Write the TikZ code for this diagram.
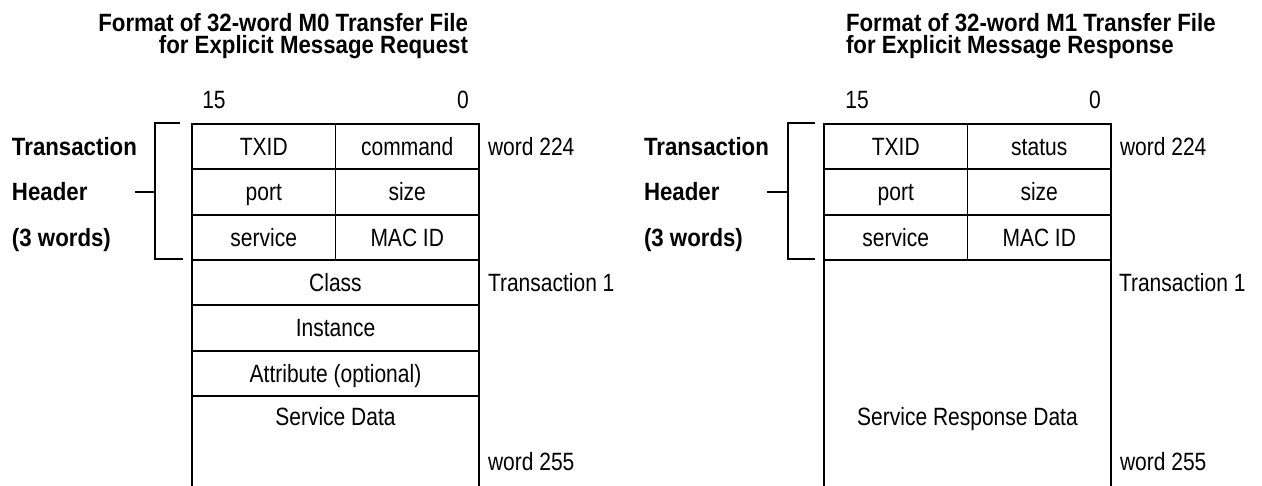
\documentclass[tikz,border=0pt]{standalone}
\usepackage{fontspec}
\setmainfont{Liberation Sans}[FakeStretch=0.84]
\newfontfamily\headfont{Liberation Sans}[FakeStretch=0.89]
\usetikzlibrary{positioning}

\begin{document}
\begin{tikzpicture}[x=1pt, y=-1pt,
	every node/.style={font=\fontsize{25}{25}\selectfont, inner sep=0pt, outer sep=0pt, text height=17.9pt, text depth=0pt},
	cell/.style={draw, line width=1.8pt, minimum height=45.33pt},
	half/.style={cell, minimum width=143.5pt},
	full/.style={cell, minimum width=287pt},
	hdr/.style={font=\headfont\bfseries\fontsize{25}{25}\selectfont, anchor=west},
	ttl/.style={font=\headfont\bfseries\fontsize{25}{22.5}\selectfont, text height=, text depth=},
	side/.style={anchor=west},
	rule/.style={line width=1.8pt}]
	% 画布
	\fill[white] (0,0) rectangle (1262,486);
	\useasboundingbox (0,0) rectangle (1262,486);
	
	% 左: M0 请求
	\node[ttl, align=right, anchor=north east] (reqT) at (468,13) {Format of 32-word M0 Transfer File\\for Explicit Message Request};
	\node (hiA) at (214,100) {15};
	\node (loA) at (463,100) {0};
	
	% 事务头
	\node[half] (txidA) at (263.75,146.67) {TXID};
	\node[half] (cmdA) at (407.25,146.67) {command};
	\node[half] (portA) at (263.75,192) {port};
	\node[half] (sizeA) at (407.25,192) {size};
	\node[half] (servA) at (263.75,237.33) {service};
	\node[half] (macA) at (407.25,237.33) {MAC ID};
	
	% 事务数据
	\node[full] (classA) at (335.5,282.67) {Class};
	\node[full] (instA) at (335.5,328) {Instance};
	\node[full] (attrA) at (335.5,373.33) {Attribute (optional)};
	\draw[rule] (attrA.south west) -- (192,486);
	\draw[rule] (attrA.south east) -- (479,486);
	\node (dataA) at (335.5,417) {Service Data};
	
	% 括号与说明
	\draw[rule] (180,123) -- (155,123) -- (155,259) -- (183,259);
	\draw[rule] (135,192) -- (155,192);
	\node[hdr] (trA) at (12,146.67) {Transaction};
	\node[hdr] (hdA) at (12,192) {Header};
	\node[hdr] (nwA) at (12,237.33) {(3 words)};
	\node[side] (w224A) at (488,146.67) {word 224};
	\node[side] (t1A) at (488,282.67) {Transaction 1};
	\node[side] (w255A) at (488,462) {word 255};
	
	% 右: M1 响应
	\begin{scope}[xshift=632pt]
		\node[ttl, align=left, anchor=north west] (rspT) at (214,13) {Format of 32-word M1 Transfer File\\for Explicit Message Response};
		\node (hiB) at (225,100) {15};
		\node (loB) at (463,100) {0};
		
		\node[half] (txidB) at (263.75,146.67) {TXID};
		\node[half] (statB) at (407.25,146.67) {status};
		\node[half] (portB) at (263.75,192) {port};
		\node[half] (sizeB) at (407.25,192) {size};
		\node[half] (servB) at (263.75,237.33) {service};
		\node[half] (macB) at (407.25,237.33) {MAC ID};
		
		\draw[rule] (servB.south west) -- (192,486);
		\draw[rule] (macB.south east) -- (479,486);
		\node (dataB) at (335.5,417) {Service Response Data};
		
		\draw[rule] (183,123) -- (156,123) -- (156,259) -- (183,259);
		\draw[rule] (135,192) -- (156,192);
		\node[hdr] (trB) at (12,146.67) {Transaction};
		\node[hdr] (hdB) at (12,192) {Header};
		\node[hdr] (nwB) at (12,237.33) {(3 words)};
		\node[side] (w224B) at (488,146.67) {word 224};
		\node[side] (t1B) at (487,282.67) {Transaction 1};
		\node[side] (w255B) at (488,462) {word 255};
	\end{scope}
\end{tikzpicture}
\end{document}
